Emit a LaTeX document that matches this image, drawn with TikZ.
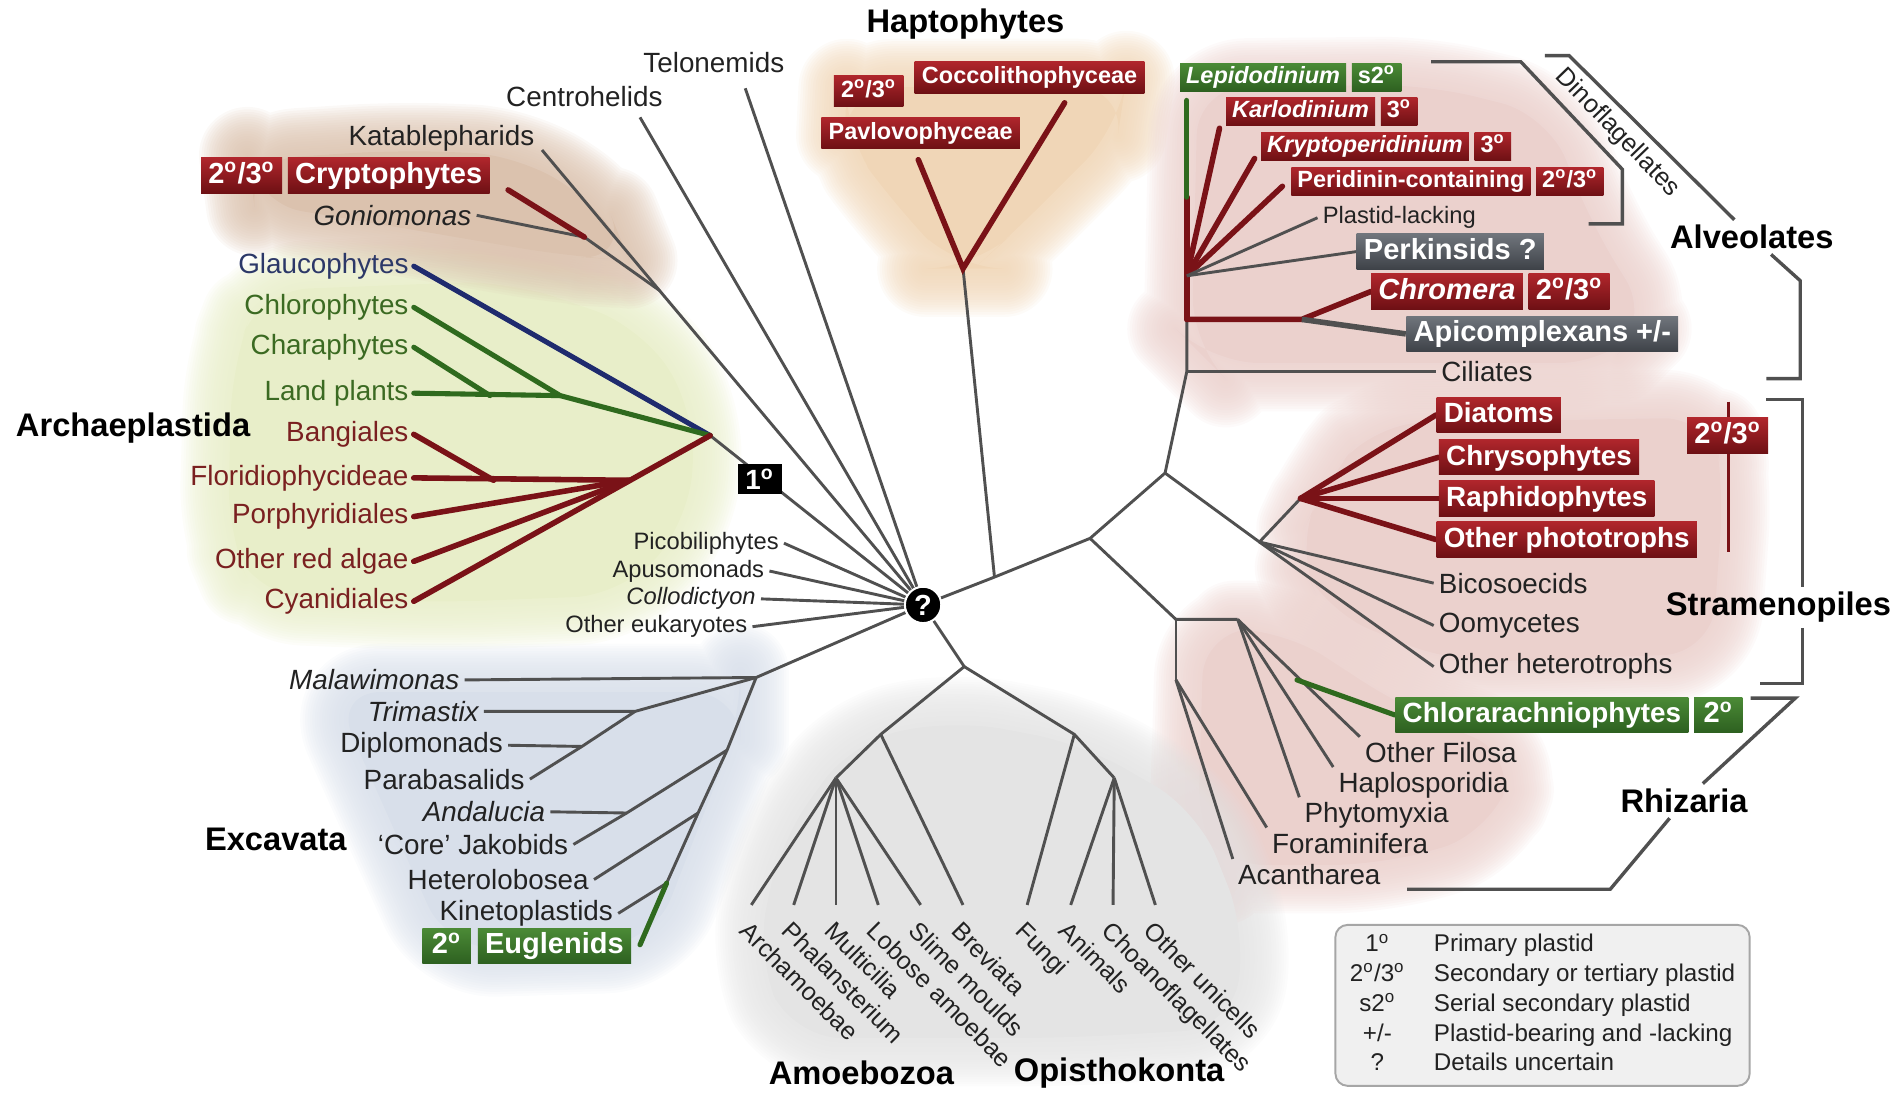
\documentclass[tikz,border=0pt]{standalone}
\usepackage{fontspec}
\setmainfont{Liberation Sans}
\usetikzlibrary{positioning}
\pgfdeclarelayer{bg}
\pgfsetlayers{bg,main}
\usepackage{xcolor}

\definecolor{treegrey}{HTML}{505050}
\definecolor{branchred}{HTML}{7A1217}
\definecolor{branchgreen}{HTML}{2F6A1E}
\definecolor{branchblue}{HTML}{1F2B6E}
\definecolor{labred}{HTML}{7A2020}
\definecolor{labgreen}{HTML}{3B6A22}
\definecolor{labblue}{HTML}{2C3868}
\definecolor{redtop}{HTML}{B0262C}
\definecolor{redbot}{HTML}{6E1014}
\definecolor{greentop}{HTML}{4B8A36}
\definecolor{greenbot}{HTML}{2D6020}
\definecolor{greytop}{HTML}{70757C}
\definecolor{greybot}{HTML}{3E4248}
\definecolor{bgbrown}{HTML}{DBC2AE}
\definecolor{bgolive}{HTML}{E8EEC9}
\definecolor{bgorange}{HTML}{F0D6B7}
\definecolor{bgpink}{HTML}{EBD1CD}
\definecolor{bgblue}{HTML}{D8DFEA}
\definecolor{bggrey}{HTML}{E4E4E4}
\definecolor{legfill}{HTML}{F0F0F0}
\definecolor{textdark}{HTML}{222222}

\newcommand\leafsize{\fontsize{11.5}{13}\selectfont}
\newcommand\smallsize{\fontsize{9.8}{11}\selectfont}
\newcommand\tiltsize{\fontsize{10.3}{12}\selectfont}
\newcommand\groupsize{\fontsize{13.5}{15}\selectfont}
\newcommand\boxsize{\fontsize{11.5}{13}\selectfont}
\newcommand\bigboxsize{\fontsize{12}{14}\selectfont}
\newcommand\dinosize{\fontsize{9.7}{11}\selectfont}
\newcommand\legsize{\fontsize{10}{12.3}\selectfont}
\newcommand\dg{\textsuperscript{o}}
% soft-edged group shading
\newcommand\haze[2]{%
  \foreach \w in {40,38,...,2}{%
    \draw[draw=#1, line width=\w pt, opacity=0.1, line join=round, rounded corners=20pt] #2;}%
  \fill[#1, rounded corners=20pt] #2;}

\begin{document}
\begin{tikzpicture}[
  x=0.5pt, y=-0.5pt,
  lab/.style={font=\leafsize, text=textdark, inner sep=2pt},
  sml/.style={font=\smallsize, text=textdark, inner sep=2pt},
  grp/.style={font=\groupsize\bfseries, text=black, inner sep=2pt},
  tilt/.style={font=\tiltsize, text=textdark, rotate=-45, anchor=north west, inner sep=1pt},
  plasbox/.style={font=\bigboxsize\bfseries, text=white, inner xsep=3pt, inner ysep=1.5pt, text height=9pt, text depth=2.6pt},
  redbox/.style={plasbox, top color=redtop, bottom color=redbot},
  greenbox/.style={plasbox, top color=greentop, bottom color=greenbot},
  greybox/.style={plasbox, top color=greytop, bottom color=greybot},
  stbox/.style={font=\boxsize\bfseries},
  dinobox/.style={font=\dinosize\bfseries, inner xsep=2.5pt, inner ysep=1.2pt, text height=7.2pt, text depth=2pt},
  haptobox/.style={font=\dinosize\bfseries, inner xsep=3pt, inner ysep=1.8pt, text height=7.3pt, text depth=2.1pt},
  qmark/.style={circle, fill=black, draw=white, line width=0.8pt, text=white, font=\fontsize{12}{12}\selectfont\bfseries, minimum size=15pt, inner sep=0pt},
  primbox/.style={fill=black, text=white, font=\fontsize{11.5}{12}\selectfont\bfseries, minimum width=18pt, minimum height=12.5pt, inner sep=1pt},
  keybox/.style={draw=gray!70, fill=legfill, rounded corners=5pt, font=\legsize, text=textdark, inner xsep=6pt, inner ysep=2.5pt, line width=0.8pt},
  tree/.style={draw=treegrey, line width=1.2pt},
  redline/.style={draw=branchred, line width=2.3pt, line cap=round},
  greenline/.style={draw=branchgreen, line width=2.1pt, line cap=round},
  blueline/.style={draw=branchblue, line width=2.1pt, line cap=round},
  bracket/.style={draw=treegrey, line width=1.4pt}
]
\useasboundingbox (0,0) rectangle (1568,903);

% root
\node[qmark] (q) at (763,500) {?};
\node[primbox] (one) at (628,396) {1\dg};

% haptophytes
\node[grp] (hapto) at (798,20) {Haptophytes};
\node[redbox, haptobox] (cocco) at (851,64) {Coccolithophyceae};
\node[redbox, haptobox] (pavlo) at (761,110) {Pavlovophyceae};
\node[redbox, haptobox] (hapdg) at (718,75) {2\dg/3\dg};
\coordinate (A) at (822,477);
\coordinate (H) at (796,222);
\coordinate (pavend) at (759,132);
\coordinate (coccoend) at (880,85);

% alveolates
\node[greenbox, dinobox, font=\dinosize\bfseries\itshape, anchor=west] (lepi) at (975,64) {Lepidodinium};
\node[greenbox, dinobox, right=2pt of lepi] (lepidg) {s2\dg};
\node[redbox, dinobox, font=\dinosize\bfseries\itshape, anchor=west] (karlo) at (1013,92) {Karlodinium};
\node[redbox, dinobox, right=2pt of karlo] (karlodg) {3\dg};
\node[redbox, dinobox, font=\dinosize\bfseries\itshape, anchor=west] (krypto) at (1042,121) {Kryptoperidinium};
\node[redbox, dinobox, right=2pt of krypto] (kryptodg) {3\dg};
\node[redbox, dinobox, anchor=west] (peri) at (1067,150) {Peridinin-containing};
\node[redbox, dinobox, right=2pt of peri] (peridg) {2\dg/3\dg};
\node[sml, anchor=west] (plack) at (1089,180) {Plastid-lacking};
\node[greybox, anchor=west] (perk) at (1121,208) {Perkinsids ?};
\node[redbox, font=\bigboxsize\bfseries\itshape, anchor=west] (chrom) at (1133,241) {Chromera};
\node[redbox, right=2pt of chrom] (chromdg) {2\dg/3\dg};
\node[greybox, anchor=west] (apico) at (1162,276) {Apicomplexans +/-};
\node[lab, anchor=west] (cil) at (1187,307) {Ciliates};
\node[lab, font=\fontsize{10.5}{12}\selectfont, rotate=-46] (dinof) at (1337,110) {Dinoflagellates};
\node[grp] (alv) at (1448,196) {Alveolates};
\coordinate (B) at (901,445);
\coordinate (C) at (963,391);
\coordinate (alvbase) at (981,307);
\coordinate (Ch0) at (981,264);
\coordinate (Ch1) at (1076,264);
\coordinate (Dn) at (981,228);
\coordinate (Lsplit) at (981,163);
\coordinate (Ltop) at (981,83);
\coordinate (karloend) at (1008,106);
\coordinate (kryptoend) at (1037,131);
\coordinate (periend) at (1060,154);

% stramenopiles
\node[redbox, stbox, anchor=west] (diat) at (1187,343) {Diatoms};
\node[redbox, stbox, anchor=west] (chrys) at (1189,378) {Chrysophytes};
\node[redbox, stbox, anchor=west] (raph) at (1189,412) {Raphidophytes};
\node[redbox, stbox, anchor=west] (ophot) at (1187,446) {Other phototrophs};
\node[lab, anchor=west] (bico) at (1185,482) {Bicosoecids};
\node[lab, anchor=west] (oomy) at (1185,517) {Oomycetes};
\node[lab, anchor=west] (ohet) at (1185,551) {Other heterotrophs};
\node[redbox] (strdg) at (1428,360) {2\dg/3\dg};
\node[grp] (stram) at (1470,502) {Stramenopiles};
\coordinate (S0) at (1041,448);
\coordinate (S1) at (1075,412);
\coordinate (sdgtop) at (1429,332);
\coordinate (sdgbot) at (1429,456);

% rhizaria
\node[greenbox, stbox, anchor=west] (chlor) at (1153,591) {Chlorarachniophytes};
\node[greenbox, minimum width=20pt, right=2pt of chlor] (chlordg) {2\dg};
\node[lab, anchor=north west] (ofil) at (1124,609) {Other Filosa};
\node[lab, anchor=north west] (haplo) at (1102,634) {Haplosporidia};
\node[lab, anchor=north west] (phyto) at (1074,659) {Phytomyxia};
\node[lab, anchor=north west] (foram) at (1047,684) {Foraminifera};
\node[lab, anchor=north west] (acanth) at (1019,710) {Acantharea};
\node[grp] (rhiz) at (1392,662) {Rhizaria};
\coordinate (R0) at (972,512);
\coordinate (R1) at (1023,512);
\coordinate (R2) at (972,562);
\coordinate (Rg) at (1072,562);

% upper left
\node[lab] (telo) at (590,52) {Telonemids};
\node[lab] (centro) at (483,80) {Centrohelids};
\node[lab, anchor=east] (kata) at (446,114) {Katablepharids};
\node[redbox, anchor=east] (crypt) at (405,145) {Cryptophytes};
\node[redbox, left=2pt of crypt] (cryptdg) {2\dg/3\dg};
\node[lab, font=\leafsize\itshape, anchor=east] (gonio) at (394,178) {Goniomonas};
\coordinate (teloend) at (616,73);
\coordinate (centroend) at (529,97);
\coordinate (kataend) at (448,124);
\coordinate (Jc) at (545,240);
\coordinate (CrN) at (483,196);
\coordinate (cryend) at (420,157);

% archaeplastida
\node[grp] (arch) at (110,354) {Archaeplastida};
\node[lab, text=labblue, anchor=east] (glauc) at (342,220) {Glaucophytes};
\node[lab, text=labgreen, anchor=east] (chloro) at (342,254) {Chlorophytes};
\node[lab, text=labgreen, anchor=east] (chara) at (342,287) {Charaphytes};
\node[lab, text=labgreen, anchor=east] (land) at (342,325) {Land plants};
\node[lab, text=labred, anchor=east] (bang) at (342,359) {Bangiales};
\node[lab, text=labred, anchor=east] (flor) at (342,395) {Floridiophycideae};
\node[lab, text=labred, anchor=east] (porph) at (342,427) {Porphyridiales};
\node[lab, text=labred, anchor=east] (ored) at (342,464) {Other red algae};
\node[lab, text=labred, anchor=east] (cyan) at (342,497) {Cyanidiales};
\coordinate (P) at (587,360);
\coordinate (G1) at (463,327);
\coordinate (G2) at (405,327);
\coordinate (Rd1) at (520,397);
\coordinate (Rd2) at (408,397);

% other lineages
\node[sml, anchor=east] (pico) at (648,449) {Picobiliphytes};
\node[sml, anchor=east] (apuso) at (636,472) {Apusomonads};
\node[sml, font=\smallsize\itshape, anchor=east] (collo) at (629,495) {Collodictyon};
\node[sml, anchor=east] (oeuk) at (622,518) {Other eukaryotes};

% excavata
\node[grp] (exc) at (228,694) {Excavata};
\node[lab, font=\leafsize\itshape, anchor=east] (malaw) at (384,562) {Malawimonas};
\node[lab, font=\leafsize\itshape, anchor=east] (trim) at (400,588) {Trimastix};
\node[lab, anchor=east] (diplo) at (420,616) {Diplomonads};
\node[lab, anchor=east] (parab) at (438,644) {Parabasalids};
\node[lab, font=\leafsize\itshape, anchor=east] (andal) at (455,671) {Andalucia};
\node[lab, anchor=east] (jako) at (474,698) {`Core' Jakobids};
\node[lab, anchor=east] (hetero) at (491,727) {Heterolobosea};
\node[lab, anchor=east] (kineto) at (511,755) {Kinetoplastids};
\node[greenbox, anchor=east] (eugl) at (522,782) {Euglenids};
\node[greenbox, minimum width=20pt, left=2.5pt of eugl] (egldg) {2\dg};
\coordinate (E0) at (625,560);
\coordinate (E1) at (525,588);
\coordinate (E2) at (481,617);
\coordinate (J1) at (601,620);
\coordinate (J2) at (577,672);
\coordinate (J3) at (551,730);
\coordinate (AndN) at (518,672);
\coordinate (euglend) at (529,781);

% amoebozoa and opisthokonta
\node[tilt] (archam) at (621,757) {Archamoebae};
\node[tilt] (phalan) at (656,757) {Phalansterium};
\node[tilt] (multic) at (691,757) {Multicilia};
\node[tilt] (lobose) at (726,757) {Lobose amoebae};
\node[tilt] (slime) at (761,757) {Slime moulds};
\node[tilt] (brev) at (796,757) {Breviata};
\node[tilt] (fungi) at (849,757) {Fungi};
\node[tilt] (animals) at (885,757) {Animals};
\node[tilt] (choano) at (920,757) {Choanoflagellates};
\node[tilt] (otheru) at (955,757) {Other unicells};
\node[grp] (amoeb) at (712,887) {Amoebozoa};
\node[grp] (opis) at (925,887) {Opisthokonta};
\coordinate (AO) at (797,551);
\coordinate (Am1) at (728,607);
\coordinate (Am2) at (691,643);
\coordinate (Op1) at (888,607);
\coordinate (Op2) at (921,643);

% key
\node[keybox] (key) at (1275,831) {\begin{tabular}{@{}c@{\hspace{12pt}}l@{}}
1\dg & Primary plastid\\
2\dg/3\dg & Secondary or tertiary plastid\\
s2\dg & Serial secondary plastid\\
+/- & Plastid-bearing and -lacking\\
? & Details uncertain
\end{tabular}};

\begin{pgfonlayer}{bg}
% shaded groups
\haze{bgolive}{(215,240) -- (420,232) -- (530,270) -- (575,340) -- (570,430) -- (515,492) -- (360,498) -- (210,492) -- (188,440) -- (192,300) -- cycle}
\haze{bgbrown}{(205,132) -- (330,124) -- (430,128) -- (505,178) -- (520,215) -- (470,212) -- (330,188) -- (210,168) -- cycle}
\haze{bgorange}{(700,72) -- (930,72) -- (925,105) -- (835,195) -- (805,222) -- (790,222) -- (740,170) -- (698,112) -- cycle}
\haze{bgpink}{(990,72) -- (1180,70) -- (1280,95) -- (1315,185) -- (1365,265) -- (1330,300) -- (1000,300) -- (985,285) -- cycle}
\haze{bgpink}{(1135,350) -- (1415,345) -- (1425,400) -- (1415,540) -- (1200,548) -- (1095,505) -- (1070,455) -- (1095,400) -- cycle}
\haze{bgpink}{(995,520) -- (1060,520) -- (1160,585) -- (1255,625) -- (1230,690) -- (1140,715) -- (1005,715) -- (990,690) -- cycle}
\haze{bgblue}{(275,572) -- (612,572) -- (612,595) -- (540,780) -- (370,785) -- cycle}
\haze{bggrey}{(705,612) -- (790,595) -- (895,615) -- (990,670) -- (1030,770) -- (1018,850) -- (880,858) -- (655,858) -- (625,790) -- (645,695) -- cycle}

% backbone
\draw[tree] (q) -- (A) -- (B) -- (C) -- (alvbase) -- (Ch0);
\draw[tree] (A) -- (H);
\draw[redline] (pavend) -- (H) -- (coccoend);

% alveolates
\draw[redline] (Ch0) -- (Dn) -- (Lsplit);
\draw[greenline] (Lsplit) -- (Ltop);
\draw[redline] (Dn) -- (karloend);
\draw[redline] (Dn) -- (kryptoend);
\draw[redline] (Dn) -- (periend);
\draw[tree] (Dn) -- (plack.west);
\draw[tree] (Dn) -- (perk.west);
\draw[redline] (Ch0) -- (Ch1) -- (chrom.west);
\draw[tree, line width=2.3pt] (Ch1) -- (apico.west);
\draw[tree] (alvbase) -- (cil.west);
\draw[bracket] (1183,51) -- (1257,51) -- (1341,140) -- (1341,185) -- (1313,185);
\draw[bracket] (1277,46) -- (1297,46) -- (alv) -- (1488,232) -- (1488,313) -- (1460,313);

% stramenopiles
\draw[tree] (C) -- (S0) -- (S1);
\draw[redline] (S1) -- (diat.west);
\draw[redline] (S1) -- (chrys.west);
\draw[redline] (S1) -- (raph.west);
\draw[redline] (S1) -- (ophot.west);
\draw[tree] (S0) -- (bico.west);
\draw[tree] (S0) -- (oomy.west);
\draw[tree] (S0) -- (ohet.west);
\draw[branchred, line width=1.2pt] (sdgtop) -- (sdgbot);
\draw[bracket] (1460,330) -- (1490,330) -- (1490,330 |- stram.north);
\draw[bracket] (1490,565 |- stram.south) -- (1490,565) -- (1455,565);

% rhizaria
\draw[tree] (B) -- (R0) -- (R1);
\draw[tree] (R0) -- (R2);
\draw[tree] (R2) -- (acanth.north west);
\draw[tree] (R2) -- (foram.north west);
\draw[tree] (R1) -- (phyto.north west);
\draw[tree] (R1) -- (haplo.north west);
\draw[tree] (R1) -- (ofil.north west);
\draw[greenline] (Rg) -- (chlor.west);
\draw[bracket] (1447,577) -- (1484,577) -- (rhiz) -- (1331,735) -- (1163,735);

% upper left
\draw[tree] (q) -- (teloend);
\draw[tree] (q) -- (centroend);
\draw[tree] (q) -- (Jc) -- (kataend);
\draw[tree] (Jc) -- (CrN) -- (gonio.east);
\draw[redline] (CrN) -- (cryend);

% archaeplastida
\draw[tree] (q) -- (P);
\draw[blueline] (glauc.east) -- (P);
\draw[greenline] (chloro.east) -- (G1) -- (P);
\draw[greenline] (chara.east) -- (G2);
\draw[greenline] (land.east) -- (G1);
\draw[redline] (cyan.east) -- (P);
\draw[redline] (bang.east) -- (Rd2);
\draw[redline] (flor.east) -- (Rd1);
\draw[redline] (porph.east) -- (Rd1);
\draw[redline] (ored.east) -- (Rd1);

% other lineages
\draw[tree] (pico.east) -- (q);
\draw[tree] (apuso.east) -- (q);
\draw[tree] (collo.east) -- (q);
\draw[tree] (oeuk.east) -- (q);

% excavata
\draw[tree] (q) -- (E0) -- (malaw.east);
\draw[tree] (E0) -- (E1) -- (trim.east);
\draw[tree] (E1) -- (E2) -- (parab.east);
\draw[tree] (E2) -- (diplo.east);
\draw[tree] (E0) -- (J1) -- (J2) -- (J3) -- (kineto.east);
\draw[tree] (J1) -- (AndN) -- (jako.east);
\draw[tree] (AndN) -- (andal.east);
\draw[tree] (J2) -- (hetero.east);
\draw[greenline] (J3) -- (euglend);

% amoebozoa and opisthokonta
\draw[tree] (q) -- (AO) -- (Am1) -- (Am2);
\draw[tree] (AO) -- (Op1) -- (Op2);
\draw[tree] (Am2) -- ([yshift=4.5pt]archam.north west);
\draw[tree] (Am2) -- ([yshift=4.5pt]phalan.north west);
\draw[tree] (Am2) -- ([yshift=4.5pt]multic.north west);
\draw[tree] (Am2) -- ([yshift=4.5pt]lobose.north west);
\draw[tree] (Am2) -- ([yshift=4.5pt]slime.north west);
\draw[tree] (Am1) -- ([yshift=4.5pt]brev.north west);
\draw[tree] (Op1) -- ([yshift=4.5pt]fungi.north west);
\draw[tree] (Op2) -- ([yshift=4.5pt]animals.north west);
\draw[tree] (Op2) -- ([yshift=4.5pt]choano.north west);
\draw[tree] (Op2) -- ([yshift=4.5pt]otheru.north west);
\end{pgfonlayer}
\end{tikzpicture}
\end{document}
